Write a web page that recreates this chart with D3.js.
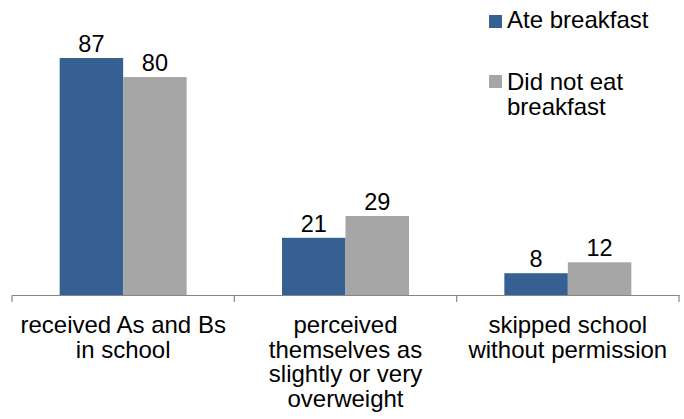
<!DOCTYPE html>
<html><head><meta charset="utf-8">
<script src="https://cdn.jsdelivr.net/npm/d3@7"></script>
<style>body{margin:0;background:#fff}svg{display:block}text{font-family:"Liberation Sans",Arial,sans-serif;fill:#000}</style>
</head><body><svg id="c" width="684" height="419"></svg>
<script>
const categories = [["received As and Bs","in school"],["perceived","themselves as","slightly or very","overweight"],["skipped school","without permission"]];
const seriesNames = [["Ate breakfast"],["Did not eat","breakfast"]];
const ateBreakfast = [87,21,8];
const didNotEat = [80,29,12];
const colors = ["#366092","#A6A6A6"];

const svg = d3.select("#c");
const x = d3.scaleBand().domain(d3.range(categories.length)).range([12,679]);
const y = d3.scaleLinear().domain([0,100]).range([295,22.6]);
const barW = 63.5;
const series = [ateBreakfast, didNotEat];

series.forEach((vals,si)=>{
  const g = svg.append("g");
  g.selectAll("rect").data(vals).join("rect")
    .attr("x",(d,i)=>x(i)+x.bandwidth()/2 - barW + si*barW)
    .attr("width",barW)
    .attr("y",d=>y(d)).attr("height",d=>y(0)-y(d))
    .attr("fill",colors[si]);
  g.selectAll("text").data(vals).join("text")
    .attr("x",(d,i)=>x(i)+x.bandwidth()/2 - barW/2 + si*barW)
    .attr("y",d=>y(d)-6)
    .attr("text-anchor","middle").attr("font-size",23.5).text(d=>d);
});

const axis = d3.axisBottom(x).tickSize(0).tickFormat("");
const ag = svg.append("g").attr("transform","translate(0,295)").call(axis);
ag.select(".domain").attr("stroke","#868686").attr("stroke-width",1.2);
const edges = d3.range(categories.length+1).map(i=> i<categories.length ? x(i) : x(i-1)+x.bandwidth());
ag.selectAll("line.edge").data(edges).join("line").attr("class","edge")
  .attr("x1",d=>d).attr("x2",d=>d).attr("y1",0).attr("y2",7)
  .attr("stroke","#868686").attr("stroke-width",1.2);

categories.forEach((lines,i)=>{
  const t = svg.append("text").attr("text-anchor","middle").attr("font-size",24);
  lines.forEach((l,j)=>t.append("tspan").attr("x",x(i)+x.bandwidth()/2).attr("y",333+j*24.5).text(l));
});

const legY = [15,75];
const legBase = [28,90];
seriesNames.forEach((lines,si)=>{
  svg.append("rect").attr("x",489).attr("y",legY[si]).attr("width",13).attr("height",13).attr("fill",colors[si]);
  const t = svg.append("text").attr("font-size",24);
  lines.forEach((l,j)=>t.append("tspan").attr("x",507).attr("y",legBase[si]+j*24.5).text(l));
});
</script></body></html>
